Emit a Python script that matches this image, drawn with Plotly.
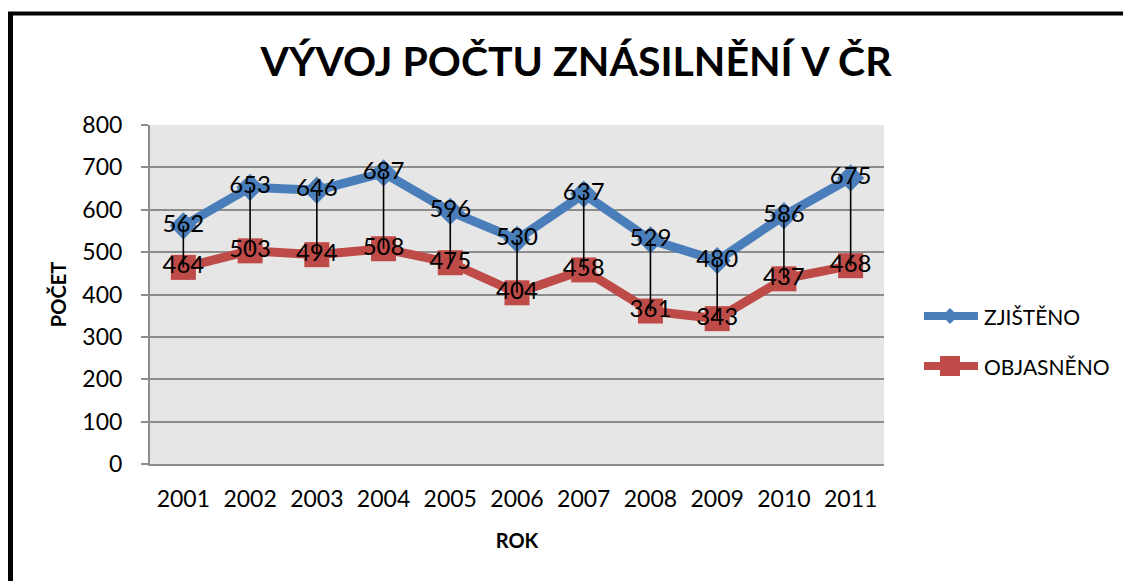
import plotly.graph_objects as go

years = ["2001", "2002", "2003", "2004", "2005", "2006", "2007", "2008", "2009", "2010", "2011"]
zjisteno = [562, 653, 646, 687, 596, 530, 637, 529, 480, 586, 675]
objasneno = [464, 503, 494, 508, 475, 404, 458, 361, 343, 437, 468]
y_ticks = [0, 100, 200, 300, 400, 500, 600, 700, 800]

title = "VÝVOJ POČTU ZNÁSILNĚNÍ V ČR"
series_names = ["ZJIŠTĚNO", "OBJASNĚNO"]

BLUE = "#4a7ebb"
RED = "#be4b48"
FONT = "Lato"

OFF = 8  # page body margin offset
W, H = 1131 - OFF, 581 - OFF
# plot area in screen pixels
SL, SR, ST, SB = 150, 884, 125, 464
L, R, T, B = SL - OFF, SR - OFF, ST - OFF, SB - OFF


def xp(px):  # screen px -> paper
    return (px - SL) / (SR - SL)


def yp(py):
    return (SB - py) / (SB - ST)


fig = go.Figure()

fig.add_trace(go.Scatter(
    x=years, y=zjisteno, name=series_names[0], mode="lines+markers",
    line=dict(color=BLUE, width=9),
    marker=dict(symbol="diamond", size=21, color=BLUE),
    showlegend=False,
))
fig.add_trace(go.Scatter(
    x=years, y=objasneno, name=series_names[1], mode="lines+markers",
    line=dict(color=RED, width=9),
    marker=dict(symbol="square", size=25, color=RED),
    showlegend=False,
))

# high-low lines
hx, hy = [], []
for yr, a, b in zip(years, zjisteno, objasneno):
    hx += [yr, yr, None]
    hy += [a, b, None]
fig.add_trace(go.Scatter(x=hx, y=hy, mode="lines", line=dict(color="black", width=1.6),
                         hoverinfo="skip", showlegend=False))

# data labels
for vals in (zjisteno, objasneno):
    fig.add_trace(go.Scatter(
        x=years, y=vals, mode="text", text=[str(v) for v in vals],
        textposition="middle center",
        textfont=dict(family=FONT, size=24, color="black"),
        hoverinfo="skip", showlegend=False,
    ))

shapes = []
annotations = []

# manual legend
leg_items = [(series_names[0], BLUE, "diamond", 316), (series_names[1], RED, "square", 366)]
for name, col, sym, py in leg_items:
    shapes.append(dict(type="line", xref="paper", yref="paper",
                       x0=xp(924), x1=xp(978), y0=yp(py), y1=yp(py),
                       line=dict(color=col, width=8)))
    cx = 950
    if sym == "diamond":
        d = 8
        path = (f"M {xp(cx)} {yp(py - d)} L {xp(cx + d)} {yp(py)} "
                f"L {xp(cx)} {yp(py + d)} L {xp(cx - d)} {yp(py)} Z")
        shapes.append(dict(type="path", xref="paper", yref="paper", path=path,
                           fillcolor=col, line=dict(width=0)))
    else:
        d = 10
        shapes.append(dict(type="rect", xref="paper", yref="paper",
                           x0=xp(cx - d), x1=xp(cx + d), y0=yp(py - d), y1=yp(py + d),
                           fillcolor=col, line=dict(width=0)))
    annotations.append(dict(x=xp(982), y=yp(py), xref="paper", yref="paper",
                            text=name, showarrow=False, xanchor="left", yanchor="middle",
                            font=dict(family=FONT, size=21, color="black")))

# outer frame (left and top edges visible)
shapes.append(dict(type="line", xref="paper", yref="paper",
                   x0=xp(10.5), x1=xp(10.5), y0=yp(12), y1=yp(600),
                   line=dict(color="black", width=5)))
shapes.append(dict(type="line", xref="paper", yref="paper",
                   x0=xp(8), x1=xp(1140), y0=yp(13.5), y1=yp(13.5),
                   line=dict(color="black", width=4)))

fig.update_layout(
    width=W, height=H,
    margin=dict(l=L, r=W - R, t=T, b=H - B, pad=0),
    paper_bgcolor="white",
    plot_bgcolor="#e6e6e6",
    font=dict(family=FONT, size=22, color="black"),
    title=dict(text=f"<b>{title}</b>", x=(576 - OFF) / W, xref="container", xanchor="center",
               y=1 - (62 - OFF) / H, yref="container", yanchor="middle",
               font=dict(family=FONT, size=41, color="black")),
    showlegend=False,
    shapes=shapes,
    annotations=annotations,
    xaxis=dict(
        type="category", range=[-0.5, 10.5],
        showgrid=False, showline=True, linecolor="#8c8c8c", linewidth=2,
        ticks="", tickfont=dict(family=FONT, size=23),
        ticklabelstandoff=13,
        title=dict(text="<b>ROK</b>", font=dict(family=FONT, size=20), standoff=23),
        fixedrange=True,
    ),
    yaxis=dict(
        range=[0, 800], tickvals=y_ticks,
        showgrid=True, gridcolor="#8c8c8c", gridwidth=2,
        showline=True, linecolor="#8c8c8c", linewidth=2,
        ticks="outside", ticklen=7, tickcolor="#8c8c8c", tickwidth=2,
        tickfont=dict(family=FONT, size=23),
        ticklabelstandoff=14,
        zeroline=False,
        title=dict(text="<b>POČET</b>", font=dict(family=FONT, size=20), standoff=10),
        fixedrange=True,
    ),
)

fig.write_html("out.html")
